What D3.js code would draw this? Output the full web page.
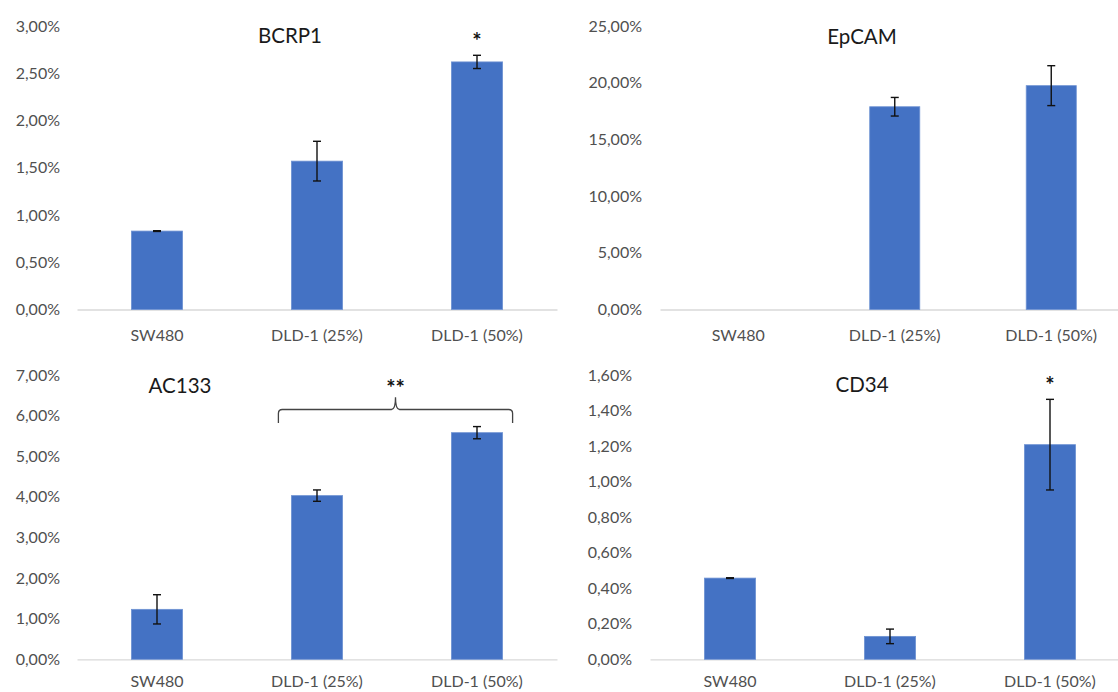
<!DOCTYPE html>
<html>
<head>
<meta charset="utf-8">
<script src="https://cdn.jsdelivr.net/npm/d3@7"></script>
<style>
  html, body { margin: 0; padding: 0; background: #fff; }
  svg { display: block; }
  text { font-family: Lato, "Open Sans", sans-serif; }
</style>
</head>
<body>
<svg id="chart" width="1118" height="692"></svg>
<script>
// Expression levels (%) per cell line, with standard deviations
const categories = ["SW480", "DLD-1 (25%)", "DLD-1 (50%)"];

const bcrp1Values = [0.83, 1.57, 2.62];
const bcrp1Errors = [0.004, 0.21, 0.07];
const bcrp1Ticks  = [0, 0.5, 1, 1.5, 2, 2.5, 3];

const epcamValues = [0, 17.88, 19.74];
const epcamErrors = [0, 0.82, 1.76];
const epcamTicks  = [0, 5, 10, 15, 20, 25];

const ac133Values = [1.23, 4.03, 5.58];
const ac133Errors = [0.36, 0.14, 0.15];
const ac133Ticks  = [0, 1, 2, 3, 4, 5, 6, 7];

const cd34Values = [0.457, 0.129, 1.208];
const cd34Errors = [0.002, 0.041, 0.255];
const cd34Ticks  = [0, 0.2, 0.4, 0.6, 0.8, 1.0, 1.2, 1.4, 1.6];

// Significance marks: single-bar stars and a bracket across two bars
const bcrp1Stars = [{ category: "DLD-1 (50%)", label: "*" }];
const cd34Stars  = [{ category: "DLD-1 (50%)", label: "*" }];
const ac133Bracket = { from: "DLD-1 (25%)", to: "DLD-1 (50%)", label: "**" };

const locale = d3.formatLocale({ decimal: ",", thousands: ".", grouping: [3], currency: ["", "€"] });
const pct = v => locale.format(".2f")(v) + "%";

const svg = d3.select("#chart");
const BAR = "#4472C4";

function panel(opt) {
  const g = svg.append("g");
  const x = d3.scaleBand()
    .domain(categories)
    .range(opt.xRange)
    .paddingInner(0.68)
    .paddingOuter(0.34);
  const y = d3.scaleLinear()
    .domain([0, d3.max(opt.ticks)])
    .range(opt.yRange);

  // value axis labels (no line, no ticks)
  const ya = g.append("g")
    .attr("transform", `translate(${opt.labelRight},0)`)
    .call(d3.axisLeft(y).tickValues(opt.ticks).tickFormat(pct).tickSize(0).tickPadding(0));
  ya.select(".domain").remove();
  ya.selectAll("text").attr("fill", "#505050").style("font-size", "16px");

  // category axis
  const xa = g.append("g")
    .attr("transform", `translate(0,${opt.yRange[0]})`)
    .call(d3.axisBottom(x).tickSize(0).tickSizeOuter(0).tickPadding(opt.catPad));
  xa.select(".domain").attr("stroke", "#d9d9d9").attr("stroke-width", 1.3);
  xa.selectAll("text").attr("fill", "#505050").style("font-size", "16px");

  const data = categories.map((c, i) => ({ c, v: opt.values[i], e: opt.errors[i] }));

  // bars
  g.selectAll("rect.bar").data(data.filter(d => d.v > 0)).join("rect")
    .attr("class", "bar")
    .attr("x", d => x(d.c))
    .attr("width", x.bandwidth())
    .attr("y", d => y(d.v))
    .attr("height", d => y(0) - y(d.v))
    .attr("fill", BAR)
    .attr("stroke", "#6f93d3")
    .attr("stroke-width", 0.8);

  // error bars
  const eb = g.selectAll("g.err").data(data.filter(d => d.v > 0)).join("g").attr("class", "err");
  const cx = d => x(d.c) + x.bandwidth() / 2;
  eb.append("line")
    .attr("x1", cx).attr("x2", cx)
    .attr("y1", d => y(d.v + d.e)).attr("y2", d => y(d.v - d.e))
    .attr("stroke", "#111").attr("stroke-width", 1.4);
  [1, -1].forEach(s => {
    eb.append("line")
      .attr("x1", d => cx(d) - 4).attr("x2", d => cx(d) + 4)
      .attr("y1", d => y(d.v + s * d.e)).attr("y2", d => y(d.v + s * d.e))
      .attr("stroke", "#111").attr("stroke-width", 1.4);
  });

  // title
  g.append("text")
    .attr("x", opt.titleX).attr("y", opt.titleY)
    .attr("text-anchor", "middle")
    .attr("fill", "#1a1a1a")
    .style("font-size", "20.5px")
    .text(opt.title);

  // stars above bars
  (opt.stars || []).forEach(s => {
    const i = categories.indexOf(s.category);
    g.append("text")
      .attr("x", x(s.category) + x.bandwidth() / 2)
      .attr("y", y(opt.values[i] + opt.errors[i]) - 6)
      .attr("text-anchor", "middle")
      .attr("fill", "#111")
      .style("font-size", "22px").style("font-weight", "bold")
      .text(s.label);
  });

  return { g, x, y };
}

panel({
  title: "BCRP1", titleX: 290, titleY: 43,
  values: bcrp1Values, errors: bcrp1Errors, ticks: bcrp1Ticks,
  xRange: [77, 557], yRange: [309.5, 26], labelRight: 60, catPad: 20,
  stars: bcrp1Stars
});

panel({
  title: "EpCAM", titleX: 862, titleY: 44,
  values: epcamValues, errors: epcamErrors, ticks: epcamTicks,
  xRange: [660, 1129.5], yRange: [309.5, 26], labelRight: 642, catPad: 20
});

const p3 = panel({
  title: "AC133", titleX: 180, titleY: 393,
  values: ac133Values, errors: ac133Errors, ticks: ac133Ticks,
  xRange: [77, 557], yRange: [659.3, 375], labelRight: 60, catPad: 16
});

panel({
  title: "CD34", titleX: 862, titleY: 392,
  values: cd34Values, errors: cd34Errors, ticks: cd34Ticks,
  xRange: [650, 1130], yRange: [659.3, 375], labelRight: 632, catPad: 16,
  stars: cd34Stars
});

// curly bracket spanning the two DLD-1 bars in the AC133 panel
(function () {
  const { g, x, y } = p3;
  const x0 = x(ac133Bracket.from) - 13;
  const x1 = x(ac133Bracket.to) + x.bandwidth() + 10;
  const mid = (x0 + x1) / 2;
  const yl = y(6.15);      // horizontal run
  const yEnd = y(5.82);    // ends of the arms
  const yTip = y(6.45);    // central point
  const r = 4;
  const path = d3.path();
  path.moveTo(x0, yEnd);
  path.lineTo(x0, yl + r);
  path.quadraticCurveTo(x0, yl, x0 + r, yl);
  path.lineTo(mid - r, yl);
  path.quadraticCurveTo(mid, yl, mid, yTip);
  path.quadraticCurveTo(mid, yl, mid + r, yl);
  path.lineTo(x1 - r, yl);
  path.quadraticCurveTo(x1, yl, x1, yl + r);
  path.lineTo(x1, yEnd);
  g.append("path").attr("d", path.toString())
    .attr("fill", "none").attr("stroke", "#444").attr("stroke-width", 1.3);
  g.append("text")
    .attr("x", mid).attr("y", yTip - 1)
    .attr("text-anchor", "middle")
    .attr("fill", "#111")
    .style("font-size", "22px").style("font-weight", "bold")
    .text(ac133Bracket.label);
})();
</script>
</body>
</html>
